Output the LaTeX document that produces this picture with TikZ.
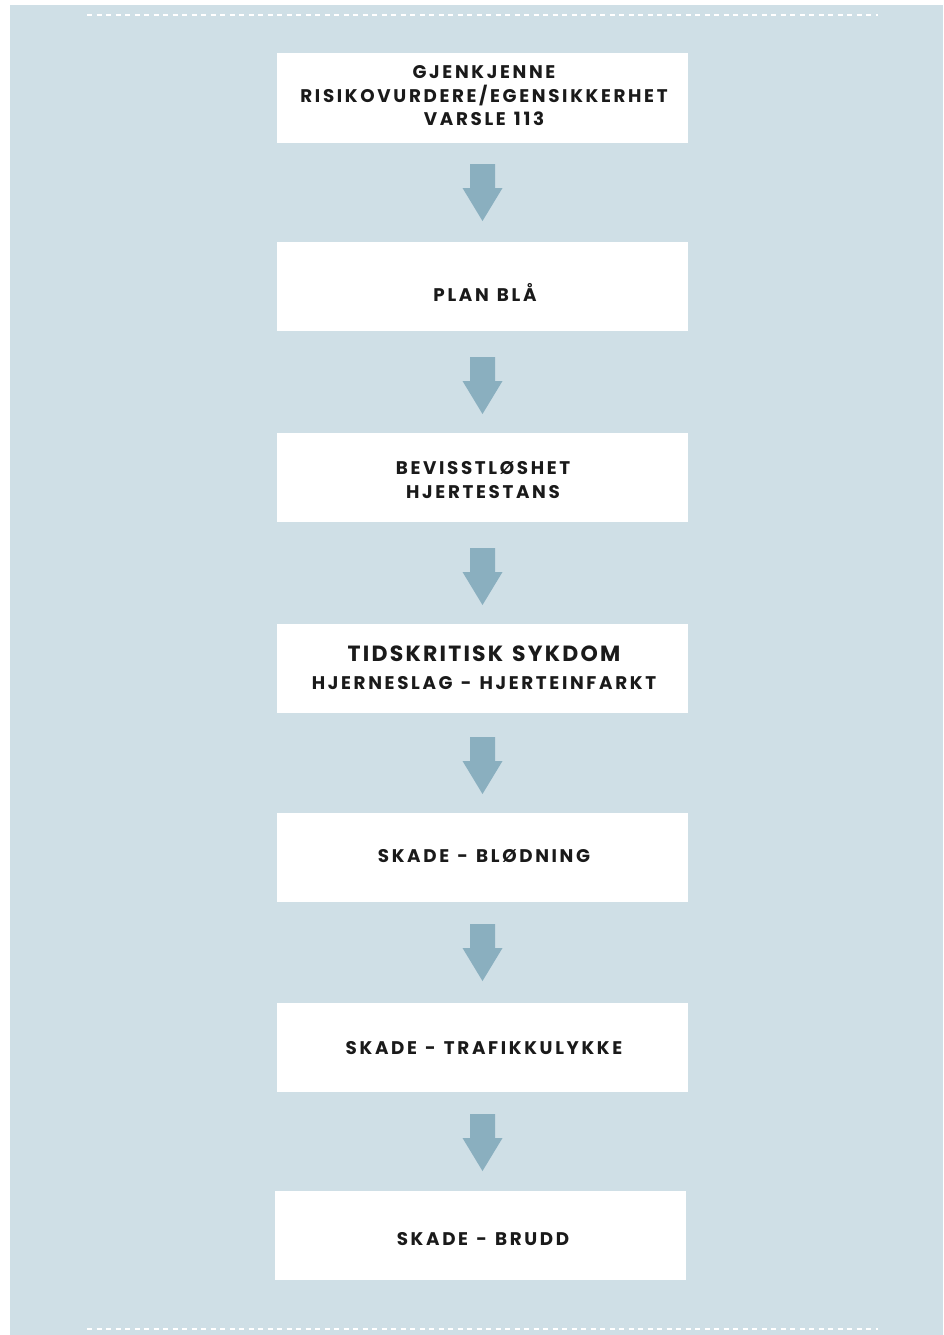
\documentclass[tikz,border=0pt]{standalone}
\usepackage{fontspec}
\setmainfont{Poppins}
\newfontfamily\lblfont{Poppins}[LetterSpace=14.5,WordSpace=1.25]
\newfontfamily\bigfont{Poppins}[LetterSpace=10,WordSpace=1.3]
\definecolor{bgblue}{HTML}{CFDFE6}
\definecolor{arrowblue}{HTML}{8AAFBF}
\definecolor{txt}{HTML}{1A1A1A}
\tikzset{
  stepbox/.style={fill=white, draw=none, minimum width=411pt, minimum height=89pt, inner sep=0pt},
  lbl/.style={font=\lblfont\fontsize{18.3}{23.5}\selectfont\bfseries, text=txt, align=center, inner sep=0pt},
  biglbl/.style={font=\bigfont\fontsize{22}{26}\selectfont\bfseries, text=txt, align=center, inner sep=0pt},
  sep/.style={draw=white, line width=1.4pt, dash pattern=on 5pt off 4.5pt}
}
\newcommand{\dnarrow}[2]{% x, top y
  \fill[arrowblue] (#1-12.5,#2) -- (#1+12.5,#2) -- (#1+12.5,#2+24) -- (#1+20,#2+24) -- (#1,#2+57) -- (#1-20,#2+24) -- (#1-12.5,#2+24) -- cycle;}
\begin{document}
\begin{tikzpicture}[x=1pt,y=-1pt]
\useasboundingbox (0,0) rectangle (943,1335);
\fill[bgblue] (10,5) rectangle (943,1335);
\coordinate (tl) at (87,15);
\coordinate (tr) at (878,15);
\coordinate (bl) at (87,1329);
\coordinate (br) at (878,1329);
\draw[sep] (tl) -- (tr);
\draw[sep] (bl) -- (br);

\node[stepbox] (b1) at (482.5,98) {};
\node[stepbox] (b2) at (482.5,286) {};
\node[stepbox] (b3) at (482.5,477.5) {};
\node[stepbox] (b4) at (482.5,668) {};
\node[stepbox] (b5) at (482.5,857.5) {};
\node[stepbox] (b6) at (482.5,1047.5) {};
\node[stepbox] (b7) at (480.5,1235.5) {};

\node[lbl] (t1) at (484,96) {GJENKJENNE\\RISIKOVURDERE/EGENSIKKERHET\\VARSLE 113};
\node[lbl] (t2) at (485,292) {PLAN BLÅ};
\node[lbl] (t3) at (483,480) {BEVISSTLØSHET\\HJERTESTANS};
\node[biglbl] (t4a) at (484,654) {TIDSKRITISK SYKDOM};
\node[lbl] (t4b) at (484,683) {HJERNESLAG - HJERTEINFARKT};
\node[lbl] (t5) at (484,856) {SKADE - BLØDNING};
\node[lbl] (t6) at (484,1048) {SKADE - TRAFIKKULYKKE};
\node[lbl] (t7) at (483,1239) {SKADE - BRUDD};

\dnarrow{482.5}{164}
\dnarrow{482.5}{357}
\dnarrow{482.5}{548}
\dnarrow{482.5}{737}
\dnarrow{482.5}{924}
\dnarrow{482.5}{1114}
\end{tikzpicture}
\end{document}
